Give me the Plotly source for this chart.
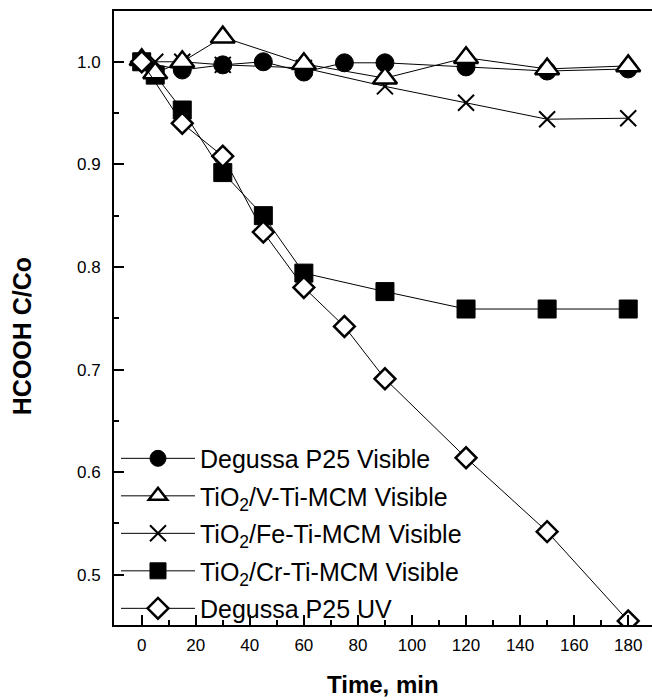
import plotly.graph_objects as go

# ---- data ----
time_p25_vis = [0, 15, 30, 45, 60, 75, 90, 120, 150, 180]
c_p25_vis = [1.000, 0.992, 0.997, 1.000, 0.990, 0.999, 0.999, 0.995, 0.991, 0.993]

time_v = [0, 5, 15, 30, 60, 90, 120, 150, 180]
c_v = [1.002, 0.989, 1.000, 1.024, 0.998, 0.984, 1.004, 0.993, 0.996]

time_fe = [0, 5, 15, 30, 60, 90, 120, 150, 180]
c_fe = [1.000, 1.000, 1.000, 0.997, 0.994, 0.976, 0.960, 0.944, 0.945]

time_cr = [0, 5, 15, 30, 45, 60, 90, 120, 150, 180]
c_cr = [1.000, 0.987, 0.953, 0.892, 0.850, 0.794, 0.776, 0.759, 0.759, 0.759]

time_uv = [0, 15, 30, 45, 60, 75, 90, 120, 150, 180]
c_uv = [1.000, 0.940, 0.908, 0.834, 0.780, 0.742, 0.691, 0.614, 0.542, 0.455]

names = ["Degussa P25 Visible",
         "TiO<sub>2</sub>/V-Ti-MCM Visible",
         "TiO<sub>2</sub>/Fe-Ti-MCM Visible",
         "TiO<sub>2</sub>/Cr-Ti-MCM Visible",
         "Degussa P25 UV"]

x_ticks = [0, 20, 40, 60, 80, 100, 120, 140, 160, 180]
y_ticks = [0.5, 0.6, 0.7, 0.8, 0.9, 1.0]
y_tick_text = ["0.5", "0.6", "0.7", "0.8", "0.9", "1.0"]

FONT = "Liberation Sans, Arial, sans-serif"
LINE = dict(color="black", width=1)

fig = go.Figure()

# drawing order: Fe (x), Cr (square), P25 vis (circle), V (triangle), UV (diamond)
fig.add_trace(go.Scatter(
    x=time_fe, y=c_fe, name=names[2], legendrank=3, legendgroup="fe",
    mode="lines+markers", line=LINE,
    marker=dict(symbol="x-thin", size=16, color="black",
                line=dict(color="black", width=2))))
fig.add_trace(go.Scatter(
    x=time_cr, y=c_cr, name=names[3], legendrank=4, legendgroup="cr",
    mode="lines+markers", line=LINE,
    marker=dict(symbol="square", size=18, color="black",
                line=dict(color="black", width=1))))
fig.add_trace(go.Scatter(
    x=time_p25_vis, y=c_p25_vis, name=names[0], legendrank=1, legendgroup="p25v",
    mode="lines+markers", line=LINE,
    marker=dict(symbol="circle", size=18, color="black",
                line=dict(color="black", width=1))))
fig.add_trace(go.Scatter(
    x=time_v, y=c_v, name=names[1], legendrank=2, legendgroup="v",
    mode="lines+markers", line=LINE,
    marker=dict(symbol="triangle-up", size=21, color="white",
                line=dict(color="black", width=2.5))))
fig.add_trace(go.Scatter(
    x=time_uv, y=c_uv, name=names[4], legendrank=5, legendgroup="uv",
    mode="lines+markers", line=LINE,
    marker=dict(symbol="diamond", size=16, color="white",
                line=dict(color="black", width=2.5))))

fig.update_layout(
    width=652, height=700,
    margin=dict(l=114, r=0, t=11, b=75),
    paper_bgcolor="white", plot_bgcolor="white",
    font=dict(family=FONT, color="black", size=17),
    showlegend=True,
    legend=dict(x=0.0037, y=0.3085, xanchor="left", yanchor="top",
                bgcolor="rgba(0,0,0,0)", borderwidth=0,
                font=dict(size=25, family=FONT, color="black"),
                itemsizing="trace", itemwidth=74, tracegroupgap=2,
                traceorder="grouped"),
    xaxis=dict(range=[-10.25, 188.8], tickmode="array", tickvals=x_ticks,
               ticks="inside", ticklen=10, tickwidth=1.5, tickcolor="black",
               minor=dict(dtick=10, ticks="inside", ticklen=5, tickwidth=1.5,
                          tickcolor="black"),
               showline=True, linecolor="black", linewidth=2, mirror=True,
               showgrid=False, zeroline=False,
               tickfont=dict(size=17, family=FONT), ticklabelstandoff=4),
    yaxis=dict(range=[0.451, 1.0495], tickmode="array", tickvals=y_ticks,
               ticktext=y_tick_text,
               ticks="inside", ticklen=10, tickwidth=1.5, tickcolor="black",
               minor=dict(dtick=0.05, ticks="inside", ticklen=5, tickwidth=1.5,
                          tickcolor="black"),
               showline=True, linecolor="black", linewidth=2, mirror=False,
               showgrid=False, zeroline=False,
               tickfont=dict(size=17, family=FONT), ticklabelstandoff=8),
    annotations=[
        dict(text="<b>Time, min</b>", xref="paper", yref="paper",
             x=0.5, y=-0.097, xanchor="center", yanchor="middle",
             showarrow=False, font=dict(size=24, family=FONT)),
        dict(text="<b>HCOOH C/Co</b>", xref="paper", yref="paper",
             x=-0.1695, y=0.47, xanchor="center", yanchor="middle",
             textangle=-90, showarrow=False, font=dict(size=25, family=FONT)),
    ],
)

fig.write_html("out.html")
